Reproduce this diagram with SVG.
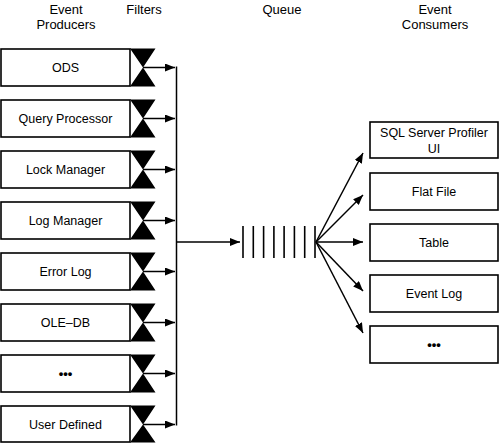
<svg xmlns="http://www.w3.org/2000/svg" width="500" height="444" viewBox="0 0 500 444">
<defs>
<marker id="ah" viewBox="0 0 10 8" refX="10" refY="4" markerWidth="10" markerHeight="8" markerUnits="userSpaceOnUse" orient="auto">
<path d="M0,0 L10,4 L0,8 Z" fill="#000"/>
</marker>
<style>
text{font-family:"Liberation Sans",Arial,sans-serif;fill:#000;text-anchor:middle}
.hd{font-size:13px}
.lb{font-size:12.5px}
.dots{font-size:13px;font-weight:bold}
.box{fill:#fff;stroke:#000;stroke-width:1.6}
.bt{fill:#000}
.ln{stroke:#000;stroke-width:1.5;fill:none}
.bar{stroke:#000;stroke-width:1.6}
</style>
</defs>
<rect width="500" height="444" fill="#fff"/>
<g id="headers">
<text class="hd" x="66" y="14">Event</text>
<text class="hd" x="66" y="29">Producers</text>
<text class="hd" x="144" y="14">Filters</text>
<text class="hd" x="282" y="14">Queue</text>
<text class="hd" x="435" y="14">Event</text>
<text class="hd" x="435" y="29">Consumers</text>
</g>
<g id="p1"><rect class="box" x="1" y="49" width="129" height="37"/><path class="bt" d="M130,48.5H155.5L143,67.5ZM130,86.5H155.5L143,67.5Z"/><text class="lb" x="65.5" y="72">ODS</text></g>
<g id="p2"><rect class="box" x="1" y="100" width="129" height="37"/><path class="bt" d="M130,99.5H155.5L143,118.5ZM130,137.5H155.5L143,118.5Z"/><text class="lb" x="65.5" y="123">Query Processor</text></g>
<g id="p3"><rect class="box" x="1" y="151" width="129" height="37"/><path class="bt" d="M130,150.5H155.5L143,169.5ZM130,188.5H155.5L143,169.5Z"/><text class="lb" x="65.5" y="174">Lock Manager</text></g>
<g id="p4"><rect class="box" x="1" y="202" width="129" height="37"/><path class="bt" d="M130,201.5H155.5L143,220.5ZM130,239.5H155.5L143,220.5Z"/><text class="lb" x="65.5" y="225">Log Manager</text></g>
<g id="p5"><rect class="box" x="1" y="253" width="129" height="37"/><path class="bt" d="M130,252.5H155.5L143,271.5ZM130,290.5H155.5L143,271.5Z"/><text class="lb" x="65.5" y="276">Error Log</text></g>
<g id="p6"><rect class="box" x="1" y="304" width="129" height="37"/><path class="bt" d="M130,303.5H155.5L143,322.5ZM130,341.5H155.5L143,322.5Z"/><text class="lb" x="65.5" y="327">OLE–DB</text></g>
<g id="p7"><rect class="box" x="1" y="355" width="129" height="37"/><path class="bt" d="M130,354.5H155.5L143,373.5ZM130,392.5H155.5L143,373.5Z"/><text class="dots" x="65.5" y="378">•••</text></g>
<g id="p8"><rect class="box" x="1" y="406" width="129" height="36"/><path class="bt" d="M130,405.5H155.5L143,424.5ZM130,442.5H155.5L143,424.5Z"/><text class="lb" x="65.5" y="429">User Defined</text></g>
<g id="queue">
<line class="bar" x1="243" y1="226" x2="243" y2="258"/>
<line class="bar" x1="253.3" y1="226" x2="253.3" y2="258"/>
<line class="bar" x1="263.6" y1="226" x2="263.6" y2="258"/>
<line class="bar" x1="273.9" y1="226" x2="273.9" y2="258"/>
<line class="bar" x1="284.1" y1="226" x2="284.1" y2="258"/>
<line class="bar" x1="294.4" y1="226" x2="294.4" y2="258"/>
<line class="bar" x1="304.7" y1="226" x2="304.7" y2="258"/>
<line class="bar" x1="315" y1="226" x2="315" y2="258"/>
</g>
<g id="c1"><rect class="box" x="370" y="122" width="128" height="36"/><text class="lb" x="434" y="137">SQL Server Profiler</text><text class="lb" x="434" y="153">UI</text></g>
<g id="c2"><rect class="box" x="370" y="173" width="128" height="37"/><text class="lb" x="434" y="196">Flat File</text></g>
<g id="c3"><rect class="box" x="370" y="224" width="128" height="37"/><text class="lb" x="434" y="247">Table</text></g>
<g id="c4"><rect class="box" x="370" y="275" width="128" height="37"/><text class="lb" x="434" y="298">Event Log</text></g>
<g id="c5"><rect class="box" x="370" y="326" width="128" height="37"/><text class="dots" x="434" y="349">•••</text></g>
<g id="connectors">
<line class="ln" x1="143" y1="67.5" x2="175" y2="67.5" marker-end="url(#ah)"/>
<line class="ln" x1="143" y1="118.5" x2="175" y2="118.5" marker-end="url(#ah)"/>
<line class="ln" x1="143" y1="169.5" x2="175" y2="169.5" marker-end="url(#ah)"/>
<line class="ln" x1="143" y1="220.5" x2="175" y2="220.5" marker-end="url(#ah)"/>
<line class="ln" x1="143" y1="271.5" x2="175" y2="271.5" marker-end="url(#ah)"/>
<line class="ln" x1="143" y1="322.5" x2="175" y2="322.5" marker-end="url(#ah)"/>
<line class="ln" x1="143" y1="373.5" x2="175" y2="373.5" marker-end="url(#ah)"/>
<line class="ln" x1="143" y1="424.5" x2="175" y2="424.5" marker-end="url(#ah)"/>
<line class="ln" x1="176.5" y1="66.5" x2="176.5" y2="425.5"/>
<line class="ln" x1="176.5" y1="242" x2="240" y2="242" marker-end="url(#ah)"/>
<line class="ln" x1="316" y1="242" x2="363" y2="153" marker-end="url(#ah)"/>
<line class="ln" x1="316" y1="242" x2="363" y2="195" marker-end="url(#ah)"/>
<line class="ln" x1="316" y1="242" x2="363" y2="242" marker-end="url(#ah)"/>
<line class="ln" x1="316" y1="242" x2="363" y2="291" marker-end="url(#ah)"/>
<line class="ln" x1="316" y1="242" x2="363" y2="333" marker-end="url(#ah)"/>
</g>
</svg>
